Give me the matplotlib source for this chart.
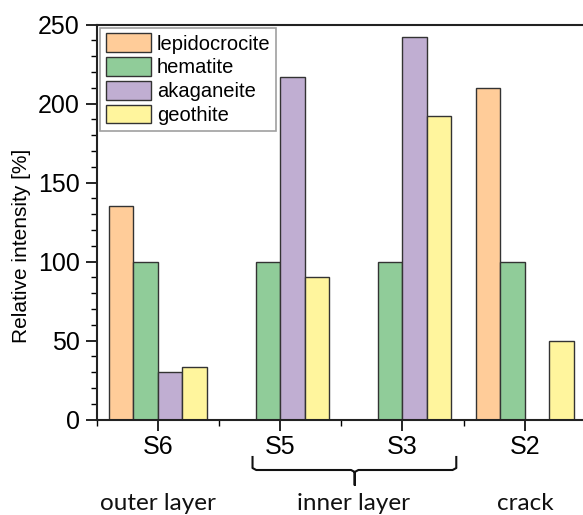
import matplotlib
matplotlib.use('Agg')
import matplotlib.pyplot as plt
import numpy as np
from matplotlib.ticker import MultipleLocator

plt.rcParams['font.family'] = ['Liberation Sans', 'DejaVu Sans']

# data
samples = ['S6', 'S5', 'S3', 'S2']
minerals = ['lepidocrocite', 'hematite', 'akaganeite', 'geothite']
lepidocrocite = [135, 0, 0, 210]
hematite = [100, 100, 100, 100]
akaganeite = [30, 217, 242, 0]
geothite = [33, 90, 192, 50]
series = [lepidocrocite, hematite, akaganeite, geothite]
colors = ['#FFCC99', '#90CC99', '#C0AED2', '#FFF59D']

fig = plt.figure(figsize=(5.83, 5.15), dpi=100)
ax = fig.add_axes([96.5 / 583, 95.5 / 515, 489.5 / 583, 395 / 515])

x = np.arange(len(samples))
w = 0.2
for i, (vals, c, name) in enumerate(zip(series, colors, minerals)):
    ax.bar(x + (i - 1.5) * w, vals, width=w, color=c, edgecolor='#333333',
           linewidth=1.0, label=name)

ax.set_xlim(-0.5, 3.5)
ax.set_ylim(0, 250)
ax.set_xticks(x)
ax.set_xticklabels(samples)
ax.xaxis.set_minor_locator(MultipleLocator(1, offset=0.5))
ax.yaxis.set_major_locator(MultipleLocator(50))
ax.yaxis.set_minor_locator(MultipleLocator(10))
ax.tick_params(which='major', length=8, width=1.2, labelsize=18)
ax.tick_params(axis='x', which='major', pad=3)
ax.tick_params(axis='y', which='major', pad=4)
ax.tick_params(which='minor', length=4, width=1.0)
for s in ax.spines.values():
    s.set_linewidth(1.5)
    s.set_color('#222222')

ax.set_ylabel('Relative intensity [%]', fontsize=15)
ax.yaxis.set_label_coords(-0.134, (419.5 - 246) / 395)

leg = ax.legend(loc='upper left', bbox_to_anchor=(0.007, 0.992), fontsize=14.5,
                frameon=True, fancybox=False, edgecolor='#888888',
                handlelength=2.24, handleheight=1.05, handletextpad=0.3,
                labelspacing=0.18, borderpad=0.28, borderaxespad=0.0)
leg.get_frame().set_linewidth(1.2)

# group brace and labels below the axis
trans = ax.get_xaxis_transform()
def yax(py):
    return (419.5 - py) / 395.0

bx0, bx1, bm = 0.775, 2.44, 1.61
d = 0.03
brace_x = [bx0, bx0, bx0 + d, bm - d, bm, bm, bm, bm + d, bx1 - d, bx1, bx1]
brace_y = [457, 468, 470, 470, 472, 485, 472, 470, 470, 468, 457]
ax.plot(brace_x, [yax(v) for v in brace_y], color='#111111', lw=1.5,
        transform=trans, clip_on=False, solid_joinstyle='round')

groups = ['outer layer', 'inner layer', 'crack']
group_x = [0, 1.6, 3.0]
for gx, g in zip(group_x, groups):
    ax.text(gx, yax(503), g, transform=trans, ha='center', va='center',
            fontsize=17.5, family=['Lato', 'DejaVu Sans'], color='#111111')

fig.savefig('out.png', dpi=100)
